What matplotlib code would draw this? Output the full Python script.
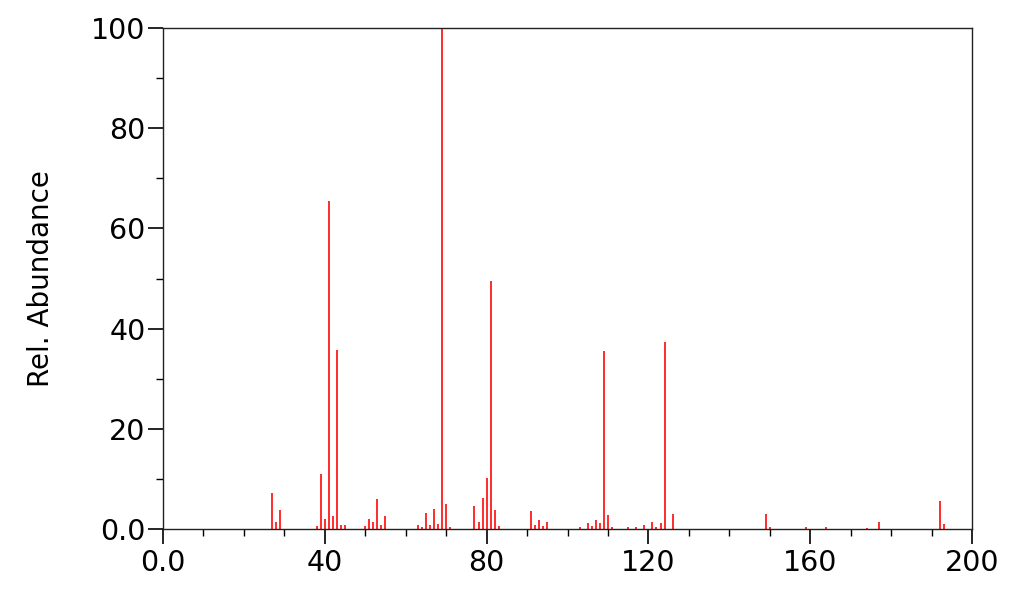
import matplotlib
matplotlib.use('Agg')
import matplotlib.pyplot as plt
from matplotlib.ticker import MultipleLocator, FixedFormatter, FixedLocator

# m/z and relative abundance
mz = [27, 28, 29, 38, 39, 40, 41, 42, 43, 44, 45,
      50, 51, 52, 53, 54, 55,
      63, 64, 65, 66, 67, 68, 69, 70, 71,
      77, 78, 79, 80, 81, 82, 83,
      91, 92, 93, 94, 95,
      103, 105, 106, 107, 108, 109, 110, 111,
      115, 117, 119, 121, 122, 123, 124, 126,
      149, 150, 159, 164, 174, 177, 192, 193]
abundance = [7.2, 1.3, 3.8, 0.6, 10.9, 2.0, 65.5, 2.6, 35.7, 0.8, 0.8,
             0.6, 2.0, 1.3, 6.0, 0.8, 2.6,
             0.8, 0.4, 3.1, 0.8, 4.0, 1.0, 100.0, 5.0, 0.3,
             4.5, 1.3, 6.1, 10.1, 49.6, 3.8, 0.6,
             3.5, 0.7, 1.8, 0.6, 1.3,
             0.3, 1.1, 0.6, 1.8, 1.1, 35.5, 2.8, 0.3,
             0.3, 0.3, 0.8, 1.3, 0.3, 1.1, 37.4, 3.0,
             3.0, 0.3, 0.4, 0.3, 0.1, 1.3, 5.5, 1.0]

x_ticks = [0, 40, 80, 120, 160, 200]
x_labels = ['0.0', '40', '80', '120', '160', '200']
y_ticks = [0, 20, 40, 60, 80, 100]
y_labels = ['0.0', '20', '40', '60', '80', '100']

fig = plt.figure(figsize=(10.13, 5.93), dpi=100)
ax = fig.add_axes([163 / 1013, 1 - 529 / 593, (972 - 163) / 1013, (529 - 28) / 593])

ax.vlines(mz, 0, abundance, color='#ff1a1a', lw=1.3)

ax.set_xlim(0, 200)
ax.set_ylim(0, 100)
ax.xaxis.set_major_locator(FixedLocator(x_ticks))
ax.xaxis.set_major_formatter(FixedFormatter(x_labels))
ax.yaxis.set_major_locator(FixedLocator(y_ticks))
ax.yaxis.set_major_formatter(FixedFormatter(y_labels))
ax.xaxis.set_minor_locator(MultipleLocator(10))
ax.yaxis.set_minor_locator(MultipleLocator(10))

ax.tick_params(which='major', direction='out', length=10.5, width=1.2,
               labelsize=20.5, pad=2, colors='black')
ax.tick_params(axis='x', which='major', pad=4)
ax.tick_params(which='minor', direction='out', length=5, width=1.0)
for sp in ax.spines.values():
    sp.set_linewidth(1.0)
    sp.set_color('#222222')

ax.set_ylabel('Rel. Abundance', fontsize=20, labelpad=26)

fig.savefig('out.png', dpi=100)
